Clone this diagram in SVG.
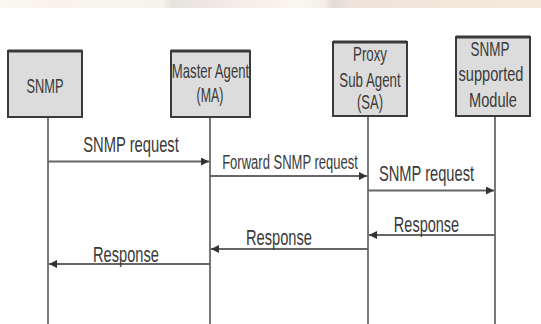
<svg xmlns="http://www.w3.org/2000/svg" width="541" height="324" viewBox="0 0 541 324">
<defs>
<linearGradient id="band" x1="0" y1="0" x2="1" y2="0">
<stop offset="0" stop-color="#fbf8f0"/>
<stop offset="0.1" stop-color="#f8f4ea"/>
<stop offset="0.3" stop-color="#f7f5ea"/>
<stop offset="0.32" stop-color="#e6e2dc"/>
<stop offset="0.42" stop-color="#f3ece6"/>
<stop offset="0.55" stop-color="#faf7ec"/>
<stop offset="0.6" stop-color="#f4f0e8"/>
<stop offset="0.615" stop-color="#e2dcd6"/>
<stop offset="0.65" stop-color="#f0e4da"/>
<stop offset="1" stop-color="#f6e9dd"/>
</linearGradient>
<marker id="ah" viewBox="0 0 8 8" refX="8" refY="4" markerWidth="4" markerHeight="4" orient="auto" markerUnits="strokeWidth">
<path d="M0,0 L8,4 L0,8 Z" fill="#333"/>
</marker>
<style>
.box{fill:#dcdcdc;stroke:#3a3a3a;stroke-width:2}
.boxtop{stroke:#3a3a3a;stroke-width:3}
.life{stroke:#555;stroke-width:1.6;fill:none}
.msg{stroke:#666;stroke-width:2;fill:none;marker-end:url(#ah)}
.t{font-family:"Liberation Sans",Arial,sans-serif;fill:#3a3a3a;text-anchor:middle}
.bl{font-size:20px}
.ml{font-size:22px}
</style>
</defs>
<rect x="0" y="0" width="541" height="8" fill="url(#band)"/>
<rect x="0" y="8" width="541" height="316" fill="#ffffff"/>

<g id="connectors">
<line class="life" x1="48" y1="117" x2="48" y2="324"/>
<line class="life" x1="210" y1="117" x2="210" y2="324"/>
<line class="life" x1="368" y1="116" x2="368" y2="324"/>
<line class="life" x1="495" y1="116" x2="495" y2="324"/>
<line class="msg" x1="48" y1="161.5" x2="209" y2="161.5"/>
<line class="msg" x1="210" y1="176" x2="367" y2="176"/>
<line class="msg" x1="368" y1="190.5" x2="494" y2="190.5"/>
<line class="msg" x1="495" y1="235" x2="369" y2="235"/>
<line class="msg" x1="368" y1="249" x2="211" y2="249"/>
<line class="msg" x1="210" y1="264" x2="49" y2="264"/>
<text class="t ml" transform="translate(131 152) scale(0.671 1)">SNMP request</text>
<text class="t bl" transform="translate(290 169) scale(0.651 1)">Forward SNMP request</text>
<text class="t ml" transform="translate(426.5 181) scale(0.668 1)">SNMP request</text>
<text class="t ml" transform="translate(426.5 232) scale(0.66 1)">Response</text>
<text class="t ml" transform="translate(279 245) scale(0.666 1)">Response</text>
<text class="t ml" transform="translate(126 262) scale(0.666 1)">Response</text>
</g>

<g id="snmp">
<rect class="box" x="8" y="51" width="74" height="66"/>
<line class="boxtop" x1="8" y1="51" x2="82" y2="51"/>
<text class="t bl" transform="translate(45 93) scale(0.64 1)">SNMP</text>
</g>

<g id="master-agent">
<rect class="box" x="171" y="51" width="79" height="66"/>
<line class="boxtop" x1="171" y1="51" x2="250" y2="51"/>
<text class="t bl" transform="translate(210.5 78) scale(0.656 1)">Master Agent</text>
<text class="t bl" transform="translate(210 102) scale(0.62 1)">(MA)</text>
</g>

<g id="proxy-sub-agent">
<rect class="box" x="333" y="42" width="74" height="74"/>
<line class="boxtop" x1="333" y1="42" x2="407" y2="42"/>
<text class="t bl" transform="translate(370 61) scale(0.665 1)">Proxy</text>
<text class="t bl" transform="translate(370 87) scale(0.664 1)">Sub Agent</text>
<text class="t bl" transform="translate(370 109) scale(0.65 1)">(SA)</text>
</g>

<g id="snmp-module">
<rect class="box" x="456" y="37" width="74" height="79"/>
<line class="boxtop" x1="456" y1="37" x2="530" y2="37"/>
<text class="t bl" transform="translate(490 56) scale(0.675 1)">SNMP</text>
<text class="t bl" transform="translate(491 81) scale(0.73 1)">supported</text>
<text class="t bl" transform="translate(493 107) scale(0.73 1)">Module</text>
</g>
</svg>
